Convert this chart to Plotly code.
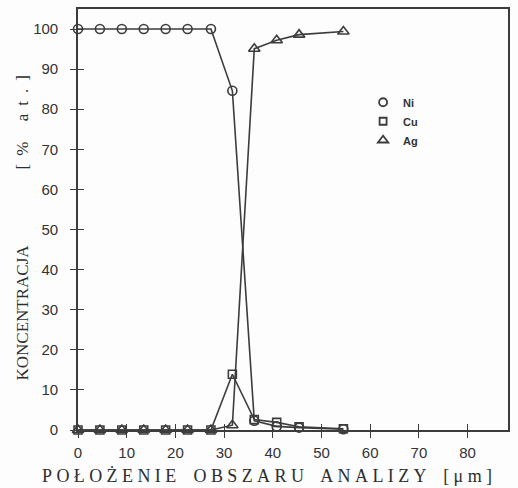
import plotly.graph_objects as go

# Data
pos = [0, 4.5, 9, 13.5, 18, 22.5, 27.3, 31.7, 36.2, 40.8, 45.4, 54.5]
ni = [100, 100, 100, 100, 100, 100, 100, 84.6, 2.3, 0.9, 0.6, 0.2]
cu = [0, 0, 0, 0, 0, 0, 0, 13.9, 2.6, 1.9, 0.8, 0.3]
ag = [0, 0, 0, 0, 0, 0, 0, 1.2, 95.1, 97.2, 98.6, 99.4]
x_ticks = [0, 10, 20, 30, 40, 50, 60, 70, 80]
y_ticks = [0, 10, 20, 30, 40, 50, 60, 70, 80, 90, 100]

ink = "#3c3c3c"
series = [
    ("Ni", ni, "circle-open", 9),
    ("Cu", cu, "square-open", 8),
    ("Ag", ag, "triangle-up-open", 10),
]

fig = go.Figure()
for name, vals, sym, size in series:
    fig.add_trace(go.Scatter(
        x=pos, y=vals, name=name, mode="lines+markers", showlegend=False,
        line=dict(color=ink, width=1.6),
        marker=dict(symbol=sym, size=size, color=ink, line=dict(width=1.6, color=ink)),
        cliponaxis=False,
    ))
# legend entries show markers only, like the reference
for name, vals, sym, size in series:
    fig.add_trace(go.Scatter(
        x=[None], y=[None], name=name, mode="markers",
        marker=dict(symbol=sym, size=size - 1, color=ink, line=dict(width=1.8, color=ink)),
    ))

# empty trace to carry the inside-tick overlay axes
fig.add_trace(go.Scatter(x=[], y=[], xaxis="x2", yaxis="y2", showlegend=False, hoverinfo="skip"))

xr = [0, 88.3]
yr = [0, 105]
tickfont = dict(family="Liberation Sans, Arial, sans-serif", size=15, color="#333")
serif = dict(family="Liberation Serif, Times New Roman, serif", color="#2e2e2e")

fig.update_layout(
    width=518, height=488,
    margin=dict(l=78, r=10, t=7, b=58),
    paper_bgcolor="#fdfdfd", plot_bgcolor="#fdfdfd",
    showlegend=True,
    legend=dict(
        x=0.663, y=0.813, xanchor="left", yanchor="top",
        bgcolor="rgba(0,0,0,0)",
        font=dict(family="Liberation Sans, Arial, sans-serif", size=11, color="#333", weight="bold"),
        itemwidth=30, tracegroupgap=0,
    ),
    xaxis=dict(
        range=xr, tickvals=x_ticks, ticks="outside", ticklen=6, tickwidth=1.4,
        tickcolor=ink, showline=True, linecolor=ink, linewidth=1.6, mirror=True,
        showgrid=False, zeroline=False, tickfont=tickfont, ticklabelstandoff=2,
    ),
    yaxis=dict(
        range=yr, tickvals=y_ticks, ticks="outside", ticklen=6, tickwidth=1.4,
        tickcolor=ink, showline=True, linecolor=ink, linewidth=1.6, mirror=True,
        showgrid=False, zeroline=False, tickfont=tickfont, ticklabelstandoff=9,
    ),
    xaxis2=dict(
        range=xr, tickvals=x_ticks, ticks="inside", ticklen=6, tickwidth=1.4,
        tickcolor=ink, showticklabels=False, showgrid=False, zeroline=False,
        overlaying="x", anchor="y2", side="bottom", showline=False,
    ),
    yaxis2=dict(
        range=yr, tickvals=y_ticks, ticks="inside", ticklen=6, tickwidth=1.4,
        tickcolor=ink, showticklabels=False, showgrid=False, zeroline=False,
        overlaying="y", anchor="x2", side="left", showline=False,
    ),
    annotations=[
        dict(
            text='<span style="letter-spacing:4.4px;word-spacing:4px">POŁOŻENIE OBSZARU ANALIZY [μm]</span>',
            xref="paper", yref="paper", x=(269 - 78) / 430, y=-0.08,
            xanchor="center", yanchor="top", showarrow=False,
            font=dict(size=18, **serif),
        ),
        dict(
            text='<span style="letter-spacing:0px">KONCENTRACJA</span>',
            xref="paper", yref="paper", x=-0.128, y=(430 - 312) / 423,
            xanchor="center", yanchor="middle", showarrow=False, textangle=-90,
            font=dict(size=17, **serif),
        ),
        dict(
            text='<span style="letter-spacing:8px">[% at.]</span>',
            xref="paper", yref="paper", x=-0.128, y=(430 - 117) / 423,
            xanchor="center", yanchor="middle", showarrow=False, textangle=-90,
            font=dict(size=17, **serif),
        ),
    ],
)

fig.write_html("out.html")
